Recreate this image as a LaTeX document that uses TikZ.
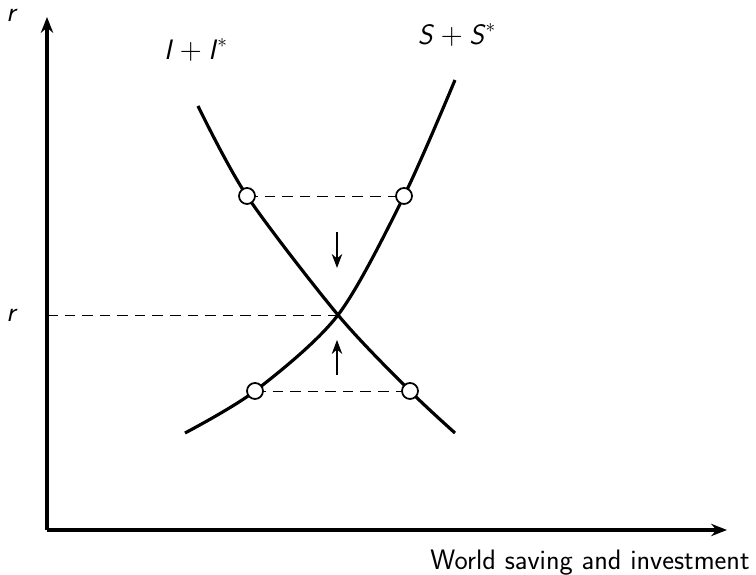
\documentclass[tikz,border=0pt]{standalone}
\usepackage{amsmath}
\usepackage{tikz}
\usetikzlibrary{arrows.meta,positioning}
\newcommand{\var}[1]{\textit{#1}}

\begin{document}
\begin{tikzpicture}[>={Stealth[length=9pt,width=7pt]},font=\sffamily\fontsize{16}{19}\selectfont,
    axis/.style={line width=2.2pt,->},
    curve/.style={line width=1.8pt},
    guide/.style={thin,dash pattern=on 6pt off 4pt},
    dot/.style={circle,draw,line width=1pt,fill=white,minimum size=0.32cm,inner sep=0pt},
    move/.style={semithick,->,>={Stealth[length=8pt,width=6pt]}}]
  \useasboundingbox (0,0) rectangle (15.12,11.5);
  % axes
  \coordinate (o) at (0.94,0.90);
  \coordinate (ytop) at (0.94,11.16);
  \coordinate (xend) at (14.54,0.90);
  \draw[axis] (o)--(ytop);
  \draw[axis] (o)--(xend);
  \node (rtop) at (0.24,11.2) {\var{r}};
  \node[inner sep=0pt,below left=0.40cm and -0.46cm of xend] (xlab) {World saving and investment};
  % equilibrium
  \coordinate (e) at (6.76,5.20);
  \node (req) at (0.24,5.20) {\var{r}};
  \draw[guide] (o|-e)--(e);
  % I + I*
  \coordinate (i0) at (3.96,9.38);
  \coordinate (i1) at (4.94,7.58);
  \coordinate (i2) at (8.20,3.68);
  \coordinate (i3) at (9.10,2.84);
  % S + S*
  \coordinate (s0) at (3.70,2.84);
  \coordinate (s1) at (5.10,3.68);
  \coordinate (s2) at (8.08,7.58);
  \coordinate (s3) at (9.10,9.90);
  \draw[curve] plot[smooth] coordinates {(i0) (i1) (e) (i2) (i3)};
  \draw[curve] plot[smooth] coordinates {(s0) (s1) (e) (s2) (s3)};
  \node (ilab) at (3.92,10.5) {\var{I}${}+{}$\var{I}$^*$};
  \node (slab) at (9.14,10.8) {\var{S}${}+{}$\var{S}$^*$};
  \draw[guide] (i1)--(s2);
  \draw[guide] (s1)--(i2);
  \node[dot] (ihi) at (i1) {};
  \node[dot] (shi) at (s2) {};
  \node[dot] (slo) at (s1) {};
  \node[dot] (ilo) at (i2) {};
  % adjustment
  \coordinate (dtop) at (6.74,6.86);
  \coordinate (dbot) at (6.74,6.14);
  \coordinate (ubot) at (6.74,4.0);
  \coordinate (utop) at (6.74,4.70);
  \draw[move] (dtop)--(dbot);
  \draw[move] (ubot)--(utop);
\end{tikzpicture}
\end{document}
